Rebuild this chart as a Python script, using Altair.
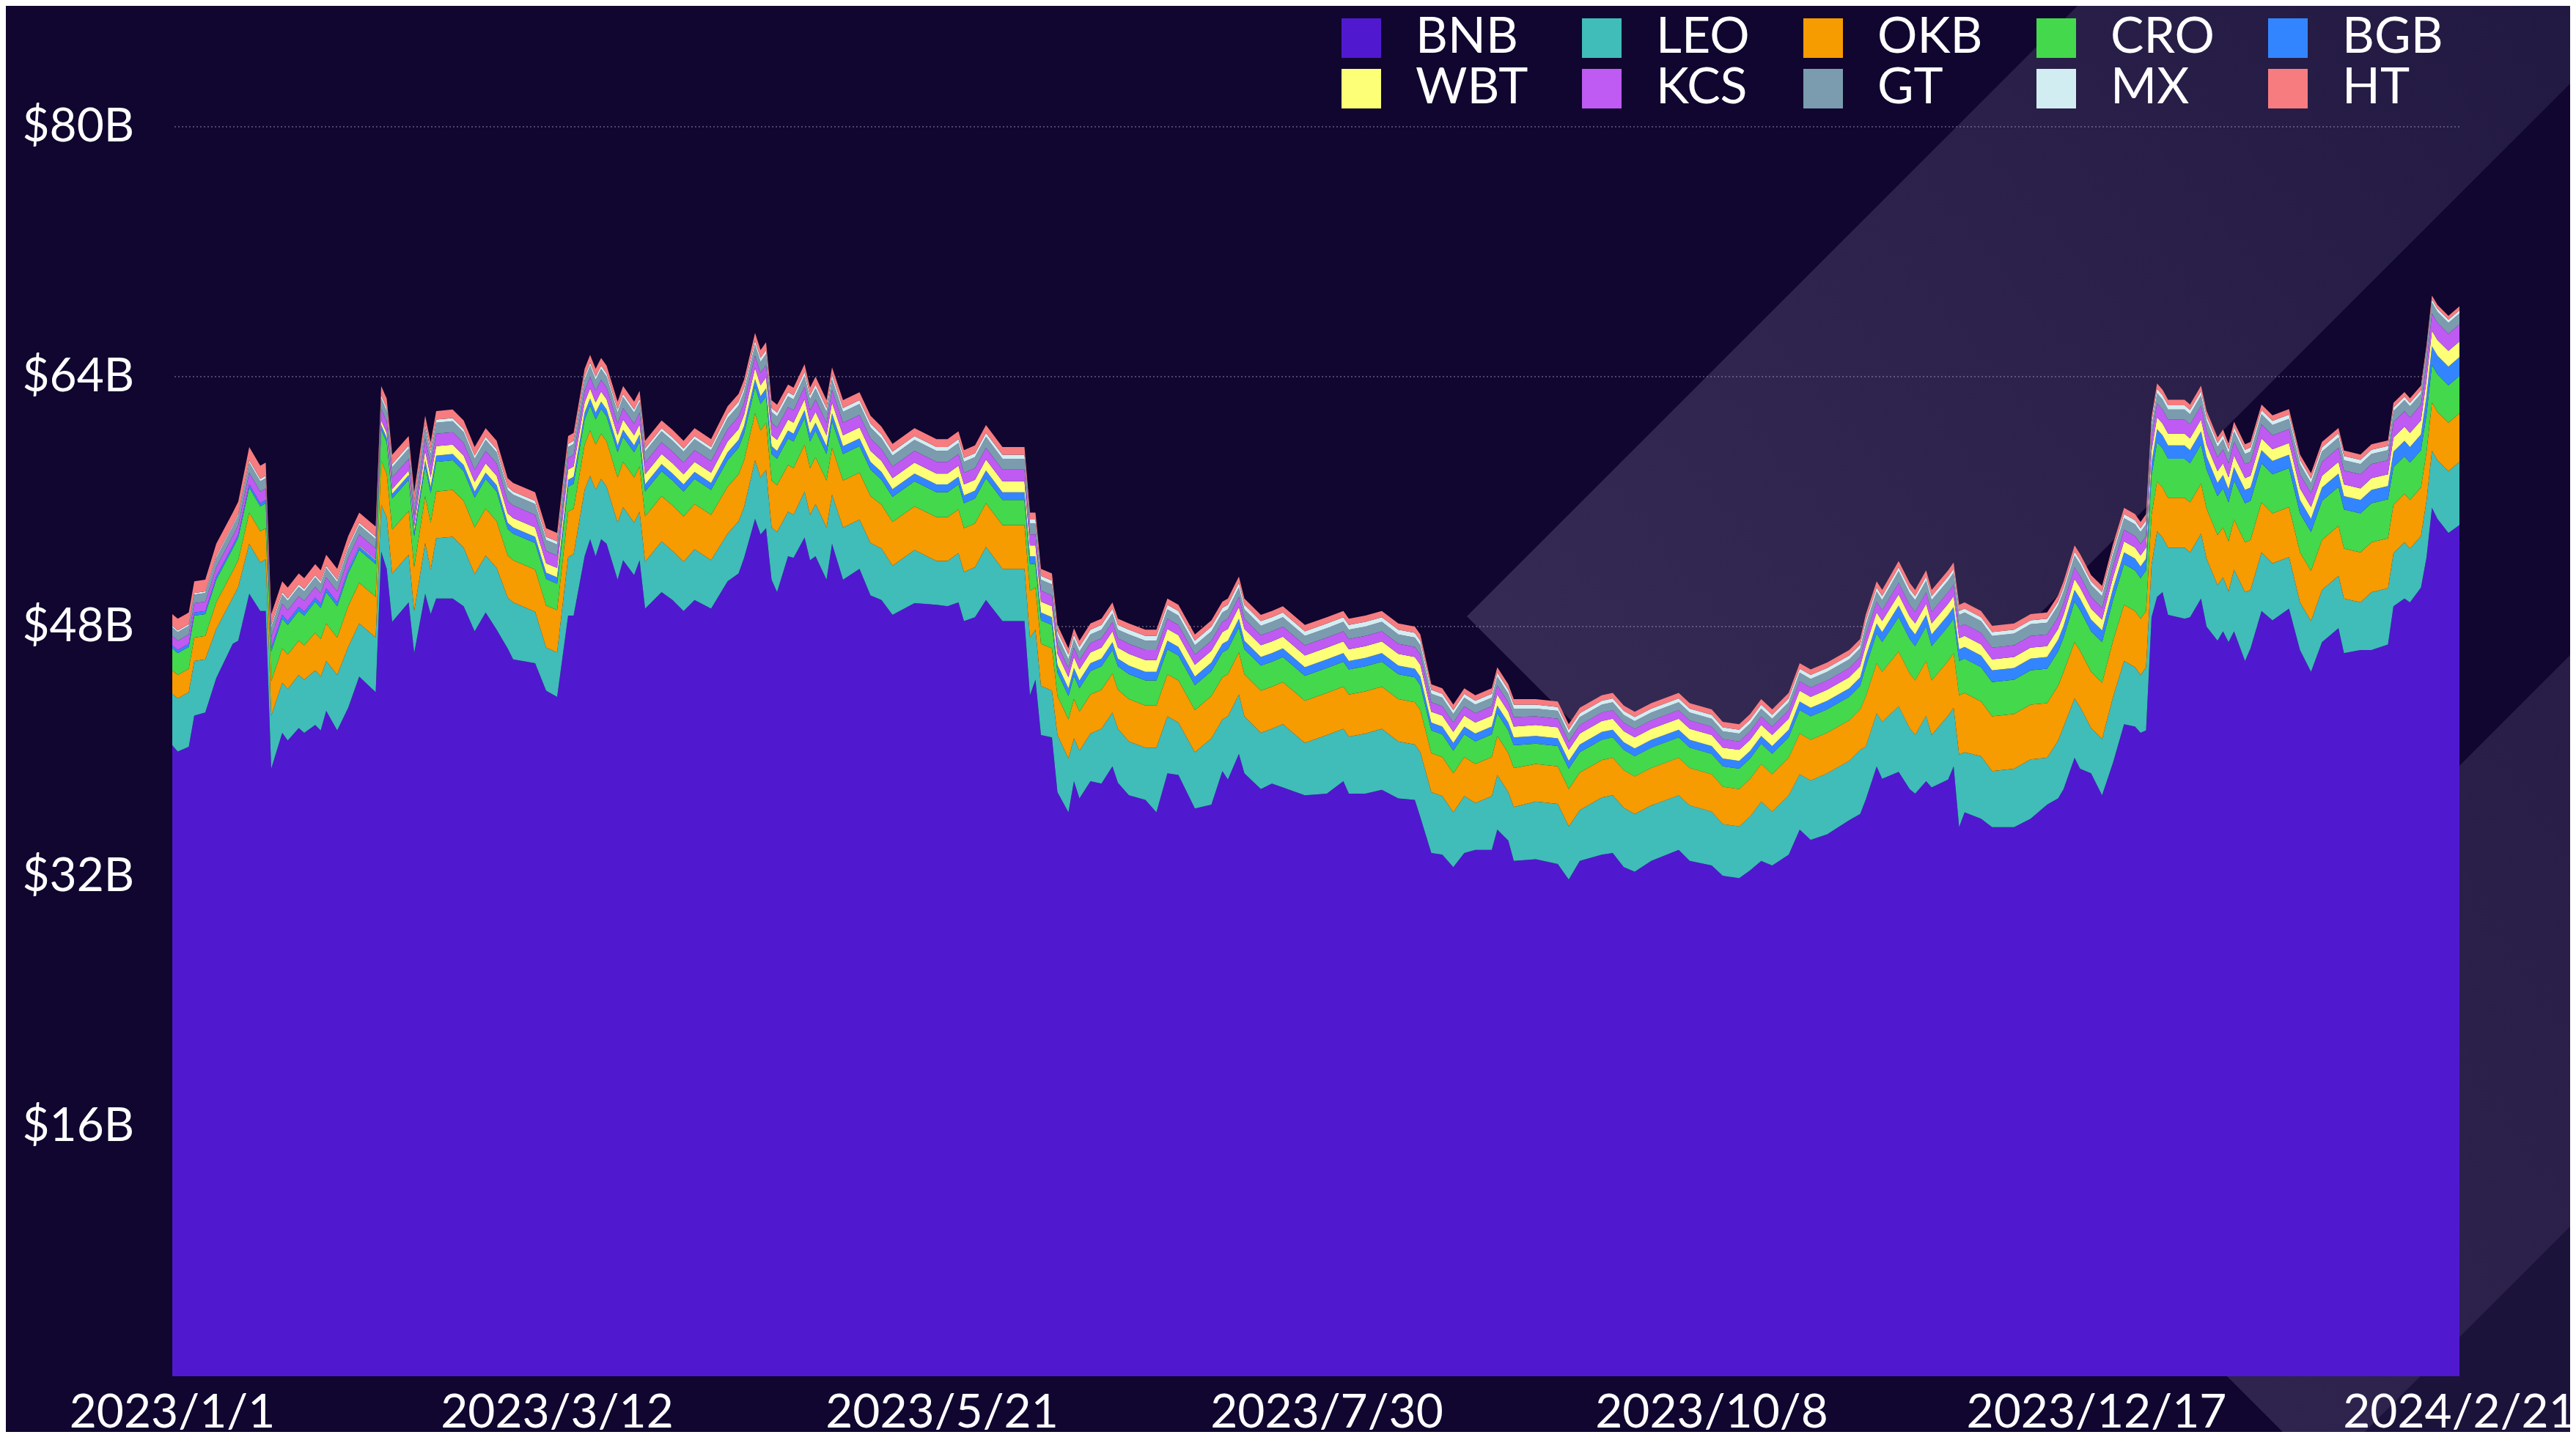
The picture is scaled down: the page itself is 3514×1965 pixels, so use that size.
import altair as alt
import pandas as pd

# ---------------- data ----------------
coins = ["BNB", "LEO", "OKB", "CRO", "BGB", "WBT", "KCS", "GT", "MX", "HT"]
coin_colors = ["#5019CF", "#40BCB9", "#F69B00", "#44D84C", "#3385FF",
               "#FDFF77", "#BF5AF2", "#7B9CAE", "#D2EDF2", "#F67C80"]

start_date = "2023-01-01"
day_offsets = [
    0, 1, 3, 4, 6, 8, 11, 12, 14, 16,
    17, 18, 20, 21, 23, 24, 26, 27, 28, 30,
    32, 34, 37, 38, 39, 40, 43, 44, 46, 47,
    48, 51, 53, 55, 57, 59, 61, 62, 66, 68,
    70, 72, 73, 75, 76, 77, 78, 79, 81, 82,
    84, 85, 86, 89, 91, 93, 95, 98, 101, 103,
    104, 106, 107, 108, 109, 110, 112, 113, 115, 116,
    117, 119, 120, 122, 125, 127, 129, 131, 135, 139,
    141, 143, 144, 146, 148, 151, 155, 156, 157, 158,
    160, 161, 163, 164, 165, 167, 169, 171, 172, 174,
    177, 179, 181, 183, 186, 189, 191, 192, 194, 195,
    198, 200, 202, 206, 210, 213, 214, 217, 220, 223,
    226, 227, 229, 231, 233, 235, 237, 240, 241, 243,
    244, 248, 252, 254, 256, 260, 262, 264, 266, 269,
    274, 276, 280, 282, 285, 287, 289, 291, 294, 296,
    298, 301, 305, 307, 308, 310, 311, 314, 316, 317,
    319, 320, 323, 324, 325, 326, 329, 331, 335, 338,
    341, 343, 344, 346, 347, 349, 351, 353, 355, 357,
    358, 359, 360, 361, 362, 363, 366, 367, 369, 370,
    372, 373, 374, 375, 377, 378, 380, 382, 385, 387,
    389, 391, 394, 395, 398, 400, 403, 404, 406, 407,
    409, 410, 411, 412, 414, 416]

bnb = [
    40.4, 40.0, 40.3, 42.3, 42.5, 44.7, 46.9, 47.1, 50.1, 49.0,
    49.0, 38.9, 41.2, 40.7, 41.5, 41.2, 41.7, 41.35, 42.6, 41.35,
    42.8, 44.8, 43.8, 52.8, 51.7, 48.3, 49.55, 46.3, 50.1, 48.8,
    49.8, 49.8, 49.3, 47.7, 48.9, 47.8, 46.6, 45.9, 45.65, 43.9,
    43.5, 48.7, 48.7, 52.5, 53.6, 52.5, 53.6, 53.3, 51.0, 52.25,
    51.3, 52.25, 49.15, 50.2, 49.7, 49.0, 49.7, 49.15, 50.9, 51.4,
    52.4, 54.9, 53.9, 54.3, 51.0, 50.2, 52.5, 52.4, 53.7, 52.25,
    52.5, 51.0, 53.3, 51.0, 51.7, 50.0, 49.7, 48.75, 49.5, 49.4,
    49.3, 49.55, 48.35, 48.6, 49.7, 48.35, 48.35, 43.6, 44.6, 41.05,
    40.9, 37.4, 36.1, 38.1, 37.0, 38.1, 37.95, 39.05, 38.0, 37.2,
    36.9, 36.1, 38.6, 38.5, 36.35, 36.6, 38.75, 38.2, 39.85, 38.6,
    37.6, 37.95, 37.7, 37.2, 37.3, 38.1, 37.3, 37.3, 37.55, 37.0,
    36.9, 35.8, 33.5, 33.4, 32.6, 33.5, 33.7, 33.7, 35.0, 34.3,
    33.0, 33.1, 32.8, 31.8, 33.0, 33.4, 33.5, 32.6, 32.3, 33.0,
    33.7, 33.0, 32.7, 32.05, 31.9, 32.4, 33.0, 32.7, 33.4, 35.0,
    34.35, 34.7, 35.6, 36.0, 36.9, 39.05, 38.25, 38.7, 37.6, 37.3,
    38.1, 37.7, 38.2, 39.05, 35.15, 36.1, 35.7, 35.15, 35.15, 35.7,
    36.6, 37.0, 37.6, 39.6, 38.9, 38.6, 37.2, 39.3, 41.75, 41.6,
    41.2, 41.35, 48.6, 49.9, 50.2, 48.75, 48.5, 48.6, 49.8, 48.0,
    47.1, 47.7, 47.0, 47.7, 45.8, 46.6, 49.0, 48.4, 49.15, 46.5,
    45.1, 47.0, 47.9, 46.3, 46.5, 46.5, 46.85, 49.3, 49.8, 49.55,
    50.5, 52.4, 55.6, 54.9, 54.0, 54.5]

leo = [
    3.3, 3.4, 3.5, 3.5, 3.4, 3.15, 2.95, 3.45, 3.2, 3.1,
    3.3, 3.4, 3.2, 3.3, 3.4, 3.4, 3.5, 3.45, 3.2, 3.55,
    3.9, 3.4, 3.5, 3.0, 3.3, 3.1, 3.05, 2.7, 3.25, 2.85,
    3.85, 3.95, 3.75, 3.65, 3.65, 3.95, 3.25, 3.65, 3.3, 2.75,
    2.85, 3.75, 3.95, 4.25, 4.05, 4.25, 3.85, 3.65, 3.65, 3.4,
    3.35, 3.1, 3.0, 3.25, 3.15, 3.15, 3.25, 3.1, 3.05, 3.35,
    3.25, 3.75, 3.65, 3.75, 3.35, 3.85, 2.85, 2.75, 2.95, 2.9,
    3.35, 3.35, 3.15, 3.35, 3.15, 3.35, 3.3, 3.15, 3.4, 2.8,
    2.9, 3.15, 3.15, 3.2, 3.4, 3.35, 3.35, 3.7, 3.2, 3.15,
    3.0, 3.65, 3.45, 2.75, 3.05, 3.05, 3.5, 3.45, 3.45, 3.45,
    3.35, 4.15, 3.65, 3.35, 3.6, 4.25, 3.3, 4.05, 3.8, 3.65,
    3.6, 3.5, 4.05, 3.35, 3.75, 3.35, 3.65, 3.85, 3.9, 3.65,
    3.55, 4.15, 3.9, 3.75, 3.5, 3.65, 3.0, 3.45, 3.5, 3.1,
    3.45, 3.7, 3.85, 3.4, 3.25, 3.65, 3.7, 3.8, 3.7, 3.55,
    3.5, 3.55, 3.45, 3.3, 3.3, 3.45, 3.8, 3.45, 3.8, 3.55,
    3.8, 3.9, 3.8, 4.1, 3.4, 3.4, 3.65, 4.2, 3.9, 3.75,
    4.2, 3.35, 4.1, 3.75, 4.65, 3.85, 4.0, 3.6, 3.75, 3.8,
    3.0, 3.7, 4.0, 3.8, 3.95, 2.9, 3.6, 4.2, 4.05, 3.8,
    3.7, 4.05, 3.35, 4.2, 3.5, 4.3, 4.55, 4.15, 4.15, 4.35,
    3.55, 3.45, 3.25, 3.95, 4.4, 3.75, 3.75, 3.65, 3.3, 3.05,
    3.25, 3.35, 3.35, 3.5, 3.05, 3.7, 3.6, 3.4, 3.6, 3.45,
    3.3, 3.65, 3.65, 3.75, 3.95, 4.05]

okb = [
    1.5, 1.5, 1.5, 1.5, 1.5, 1.7, 1.7, 1.7, 2.0, 2.0,
    2.0, 2.2, 2.2, 2.2, 2.2, 2.2, 2.4, 2.4, 2.4, 2.4,
    2.6, 2.6, 2.6, 2.8, 2.8, 2.8, 2.8, 2.8, 3.0, 3.0,
    3.0, 3.0, 3.0, 3.0, 3.0, 3.0, 2.7, 2.7, 2.7, 2.7,
    2.7, 2.9, 2.9, 2.9, 2.9, 2.9, 2.9, 2.9, 2.9, 2.9,
    2.9, 2.9, 2.9, 2.9, 2.9, 2.9, 2.9, 2.9, 3.0, 3.0,
    3.0, 3.0, 3.0, 3.0, 3.0, 3.0, 3.0, 3.0, 3.0, 3.0,
    3.0, 3.0, 3.0, 3.0, 3.0, 3.0, 2.8, 2.8, 2.8, 2.8,
    2.8, 2.8, 2.8, 2.8, 2.8, 2.8, 2.8, 3.0, 2.7, 2.7,
    2.7, 2.5, 2.5, 2.5, 2.5, 2.5, 2.5, 2.5, 2.5, 2.7,
    2.7, 2.7, 2.7, 2.7, 2.7, 2.7, 2.7, 2.7, 2.7, 2.7,
    2.7, 2.7, 2.7, 2.7, 2.7, 2.7, 2.7, 2.7, 2.7, 2.7,
    2.7, 2.7, 2.5, 2.5, 2.5, 2.5, 2.5, 2.5, 2.5, 2.5,
    2.5, 2.4, 2.4, 2.4, 2.4, 2.4, 2.4, 2.4, 2.4, 2.4,
    2.4, 2.4, 2.4, 2.4, 2.4, 2.4, 2.4, 2.4, 2.4, 2.6,
    2.6, 2.6, 2.6, 2.6, 3.2, 3.2, 3.2, 3.5, 3.5, 3.5,
    3.5, 3.5, 3.5, 3.5, 3.8, 3.8, 3.5, 3.5, 3.5, 3.5,
    3.5, 3.5, 3.5, 3.6, 3.6, 3.6, 3.6, 3.6, 3.6, 3.6,
    3.6, 3.6, 3.2, 3.2, 3.2, 3.2, 3.2, 3.2, 3.2, 3.2,
    3.2, 3.2, 3.2, 3.2, 3.2, 3.2, 3.2, 3.2, 3.2, 3.2,
    3.2, 3.2, 3.2, 3.2, 3.2, 3.2, 3.2, 3.1, 3.1, 3.1,
    3.1, 3.1, 3.1, 3.1, 3.1, 3.1]

cro = [
    1.4, 1.4, 1.4, 1.4, 1.4, 1.45, 1.45, 1.45, 1.6, 1.6,
    1.6, 1.9, 1.9, 1.9, 1.9, 1.9, 2.0, 2.0, 2.0, 2.0,
    2.1, 2.1, 2.1, 2.0, 2.0, 2.0, 2.0, 2.0, 1.9, 1.9,
    1.9, 1.9, 1.9, 1.9, 1.9, 1.9, 1.7, 1.7, 1.7, 1.7,
    1.7, 1.6, 1.6, 1.6, 1.6, 1.6, 1.6, 1.6, 1.6, 1.6,
    1.6, 1.6, 1.6, 1.6, 1.6, 1.6, 1.6, 1.6, 1.7, 1.7,
    1.7, 1.7, 1.7, 1.7, 1.7, 1.7, 1.7, 1.7, 1.7, 1.7,
    1.7, 1.7, 1.7, 1.7, 1.7, 1.7, 1.6, 1.6, 1.6, 1.6,
    1.6, 1.6, 1.6, 1.6, 1.6, 1.6, 1.6, 1.7, 1.5, 1.5,
    1.5, 1.5, 1.5, 1.5, 1.5, 1.5, 1.5, 1.5, 1.5, 1.6,
    1.6, 1.6, 1.6, 1.6, 1.6, 1.6, 1.6, 1.6, 1.6, 1.6,
    1.6, 1.6, 1.6, 1.6, 1.6, 1.6, 1.6, 1.6, 1.6, 1.6,
    1.6, 1.6, 1.45, 1.45, 1.45, 1.45, 1.45, 1.45, 1.45, 1.45,
    1.45, 1.3, 1.3, 1.3, 1.3, 1.3, 1.3, 1.3, 1.3, 1.3,
    1.3, 1.3, 1.3, 1.3, 1.3, 1.3, 1.3, 1.3, 1.3, 1.5,
    1.5, 1.5, 1.5, 1.5, 1.9, 1.9, 1.9, 2.2, 2.2, 2.2,
    2.2, 2.2, 2.2, 2.2, 2.2, 2.2, 2.2, 2.2, 2.2, 2.2,
    2.2, 2.2, 2.2, 2.6, 2.6, 2.6, 2.6, 2.6, 2.6, 2.6,
    2.6, 2.6, 2.5, 2.5, 2.5, 2.5, 2.5, 2.5, 2.5, 2.5,
    2.5, 2.5, 2.5, 2.5, 2.5, 2.5, 2.5, 2.5, 2.5, 2.5,
    2.5, 2.5, 2.5, 2.5, 2.5, 2.5, 2.5, 2.4, 2.4, 2.4,
    2.4, 2.4, 2.4, 2.4, 2.4, 2.4]

bgb = [
    0.2, 0.2, 0.2, 0.2, 0.2, 0.2, 0.2, 0.2, 0.2, 0.2,
    0.2, 0.25, 0.25, 0.25, 0.25, 0.25, 0.25, 0.25, 0.25, 0.25,
    0.25, 0.25, 0.25, 0.3, 0.3, 0.3, 0.3, 0.3, 0.4, 0.4,
    0.4, 0.4, 0.4, 0.4, 0.4, 0.4, 0.4, 0.4, 0.4, 0.4,
    0.4, 0.45, 0.45, 0.45, 0.45, 0.45, 0.45, 0.45, 0.45, 0.45,
    0.45, 0.45, 0.45, 0.45, 0.45, 0.45, 0.45, 0.45, 0.5, 0.5,
    0.5, 0.5, 0.5, 0.5, 0.5, 0.5, 0.5, 0.5, 0.5, 0.5,
    0.5, 0.5, 0.5, 0.5, 0.5, 0.5, 0.5, 0.5, 0.5, 0.5,
    0.5, 0.5, 0.5, 0.5, 0.5, 0.5, 0.5, 0.5, 0.5, 0.5,
    0.5, 0.5, 0.5, 0.5, 0.5, 0.5, 0.5, 0.5, 0.5, 0.55,
    0.55, 0.55, 0.55, 0.55, 0.55, 0.55, 0.55, 0.55, 0.55, 0.55,
    0.55, 0.55, 0.55, 0.55, 0.55, 0.55, 0.55, 0.55, 0.55, 0.55,
    0.55, 0.55, 0.5, 0.5, 0.5, 0.5, 0.5, 0.5, 0.5, 0.5,
    0.5, 0.5, 0.5, 0.5, 0.5, 0.5, 0.5, 0.5, 0.5, 0.5,
    0.5, 0.5, 0.5, 0.5, 0.5, 0.5, 0.5, 0.5, 0.5, 0.55,
    0.55, 0.55, 0.55, 0.55, 0.65, 0.65, 0.65, 0.75, 0.75, 0.75,
    0.75, 0.75, 0.75, 0.75, 0.75, 0.75, 0.75, 0.75, 0.75, 0.75,
    0.75, 0.75, 0.75, 0.75, 0.75, 0.75, 0.75, 0.75, 0.75, 0.75,
    0.75, 0.75, 0.85, 0.85, 0.85, 0.85, 0.85, 0.85, 0.85, 0.85,
    0.85, 0.85, 0.85, 0.85, 0.85, 0.85, 0.85, 0.85, 0.85, 0.85,
    0.85, 0.85, 0.85, 0.85, 0.85, 0.85, 0.85, 1.0, 1.0, 1.0,
    1.0, 1.2, 1.2, 1.2, 1.2, 1.2]

wbt = [
    0.0, 0.0, 0.0, 0.0, 0.0, 0.0, 0.0, 0.0, 0.0, 0.0,
    0.0, 0.0, 0.0, 0.0, 0.0, 0.0, 0.0, 0.0, 0.0, 0.0,
    0.05, 0.05, 0.05, 0.3, 0.3, 0.3, 0.3, 0.3, 0.6, 0.6,
    0.6, 0.6, 0.6, 0.6, 0.6, 0.6, 0.6, 0.6, 0.6, 0.6,
    0.6, 0.65, 0.65, 0.65, 0.65, 0.65, 0.65, 0.65, 0.65, 0.65,
    0.65, 0.65, 0.65, 0.65, 0.65, 0.65, 0.65, 0.65, 0.7, 0.7,
    0.7, 0.7, 0.7, 0.7, 0.7, 0.7, 0.7, 0.7, 0.7, 0.7,
    0.7, 0.7, 0.7, 0.7, 0.7, 0.7, 0.7, 0.7, 0.7, 0.7,
    0.7, 0.7, 0.7, 0.7, 0.7, 0.7, 0.7, 0.7, 0.7, 0.7,
    0.7, 0.7, 0.7, 0.7, 0.7, 0.7, 0.7, 0.7, 0.7, 0.75,
    0.75, 0.75, 0.75, 0.75, 0.75, 0.75, 0.75, 0.75, 0.75, 0.75,
    0.75, 0.75, 0.75, 0.75, 0.75, 0.75, 0.75, 0.75, 0.75, 0.75,
    0.75, 0.75, 0.7, 0.7, 0.7, 0.7, 0.7, 0.7, 0.7, 0.7,
    0.7, 0.7, 0.7, 0.7, 0.7, 0.7, 0.7, 0.7, 0.7, 0.7,
    0.7, 0.7, 0.7, 0.7, 0.7, 0.7, 0.7, 0.7, 0.7, 0.7,
    0.7, 0.7, 0.7, 0.7, 0.7, 0.7, 0.7, 0.7, 0.7, 0.7,
    0.7, 0.7, 0.7, 0.7, 0.7, 0.7, 0.7, 0.7, 0.7, 0.7,
    0.7, 0.7, 0.7, 0.7, 0.7, 0.7, 0.7, 0.7, 0.7, 0.7,
    0.7, 0.7, 0.75, 0.75, 0.75, 0.75, 0.75, 0.75, 0.75, 0.75,
    0.75, 0.75, 0.75, 0.75, 0.75, 0.75, 0.75, 0.75, 0.75, 0.75,
    0.75, 0.75, 0.75, 0.75, 0.75, 0.75, 0.75, 0.9, 0.9, 0.9,
    0.9, 1.0, 1.0, 1.0, 1.0, 1.0]

kcs = [
    0.6, 0.6, 0.6, 0.6, 0.6, 0.6, 0.6, 0.6, 0.75, 0.75,
    0.75, 0.7, 0.7, 0.7, 0.7, 0.7, 0.7, 0.7, 0.7, 0.7,
    0.7, 0.7, 0.7, 0.75, 0.75, 0.75, 0.75, 0.75, 0.8, 0.8,
    0.8, 0.8, 0.8, 0.8, 0.8, 0.8, 0.8, 0.8, 0.8, 0.8,
    0.8, 0.75, 0.75, 0.75, 0.75, 0.75, 0.75, 0.75, 0.75, 0.75,
    0.75, 0.75, 0.75, 0.75, 0.75, 0.75, 0.75, 0.75, 0.8, 0.8,
    0.8, 0.8, 0.8, 0.8, 0.8, 0.8, 0.8, 0.8, 0.8, 0.8,
    0.8, 0.8, 0.8, 0.8, 0.8, 0.8, 0.75, 0.75, 0.75, 0.75,
    0.75, 0.75, 0.75, 0.75, 0.75, 0.75, 0.75, 0.7, 0.7, 0.7,
    0.7, 0.6, 0.6, 0.6, 0.6, 0.6, 0.6, 0.6, 0.6, 0.65,
    0.65, 0.65, 0.65, 0.65, 0.65, 0.65, 0.65, 0.65, 0.65, 0.65,
    0.65, 0.65, 0.65, 0.65, 0.65, 0.65, 0.65, 0.65, 0.65, 0.65,
    0.65, 0.65, 0.6, 0.6, 0.6, 0.6, 0.6, 0.6, 0.6, 0.6,
    0.6, 0.55, 0.55, 0.55, 0.55, 0.55, 0.55, 0.55, 0.55, 0.55,
    0.55, 0.55, 0.55, 0.55, 0.55, 0.55, 0.55, 0.55, 0.55, 0.6,
    0.6, 0.6, 0.6, 0.6, 0.7, 0.7, 0.7, 0.75, 0.75, 0.75,
    0.75, 0.75, 0.75, 0.75, 0.75, 0.75, 0.75, 0.75, 0.75, 0.75,
    0.75, 0.75, 0.75, 0.75, 0.75, 0.75, 0.75, 0.75, 0.75, 0.75,
    0.75, 0.75, 0.9, 0.9, 0.9, 0.9, 0.9, 0.9, 0.9, 0.9,
    0.9, 0.9, 0.9, 0.9, 0.9, 0.9, 0.9, 0.9, 0.9, 0.9,
    0.9, 0.9, 0.9, 0.9, 0.9, 0.9, 0.9, 1.0, 1.0, 1.0,
    1.0, 1.1, 1.1, 1.1, 1.1, 1.1]

gt = [
    0.55, 0.55, 0.55, 0.55, 0.55, 0.6, 0.6, 0.6, 0.65, 0.65,
    0.65, 0.6, 0.6, 0.6, 0.6, 0.6, 0.6, 0.6, 0.6, 0.6,
    0.6, 0.6, 0.6, 0.65, 0.65, 0.65, 0.65, 0.65, 0.7, 0.7,
    0.7, 0.7, 0.7, 0.7, 0.7, 0.7, 0.7, 0.7, 0.7, 0.7,
    0.7, 0.7, 0.7, 0.7, 0.7, 0.7, 0.7, 0.7, 0.7, 0.7,
    0.7, 0.7, 0.7, 0.7, 0.7, 0.7, 0.7, 0.7, 0.7, 0.7,
    0.7, 0.7, 0.7, 0.7, 0.7, 0.7, 0.7, 0.7, 0.7, 0.7,
    0.7, 0.7, 0.7, 0.7, 0.7, 0.7, 0.7, 0.7, 0.7, 0.7,
    0.7, 0.7, 0.7, 0.7, 0.7, 0.7, 0.7, 0.7, 0.7, 0.7,
    0.7, 0.55, 0.55, 0.55, 0.55, 0.55, 0.55, 0.55, 0.55, 0.6,
    0.6, 0.6, 0.6, 0.6, 0.6, 0.6, 0.6, 0.6, 0.6, 0.6,
    0.6, 0.6, 0.6, 0.6, 0.6, 0.6, 0.6, 0.6, 0.6, 0.6,
    0.6, 0.6, 0.55, 0.55, 0.55, 0.55, 0.55, 0.55, 0.55, 0.55,
    0.55, 0.5, 0.5, 0.5, 0.5, 0.5, 0.5, 0.5, 0.5, 0.5,
    0.5, 0.5, 0.5, 0.5, 0.5, 0.5, 0.5, 0.5, 0.5, 0.55,
    0.55, 0.55, 0.55, 0.55, 0.65, 0.65, 0.65, 0.75, 0.75, 0.75,
    0.75, 0.75, 0.75, 0.75, 0.75, 0.75, 0.75, 0.75, 0.75, 0.75,
    0.75, 0.75, 0.75, 0.75, 0.75, 0.75, 0.75, 0.75, 0.75, 0.75,
    0.75, 0.75, 0.65, 0.65, 0.65, 0.65, 0.65, 0.65, 0.65, 0.65,
    0.65, 0.65, 0.65, 0.65, 0.65, 0.65, 0.65, 0.65, 0.65, 0.65,
    0.65, 0.65, 0.65, 0.65, 0.65, 0.65, 0.65, 0.7, 0.7, 0.7,
    0.7, 0.7, 0.7, 0.7, 0.7, 0.7]

mx = [
    0.1, 0.1, 0.1, 0.1, 0.1, 0.1, 0.1, 0.1, 0.15, 0.15,
    0.15, 0.15, 0.15, 0.15, 0.15, 0.15, 0.15, 0.15, 0.15, 0.15,
    0.15, 0.15, 0.15, 0.2, 0.2, 0.2, 0.2, 0.2, 0.2, 0.2,
    0.2, 0.2, 0.2, 0.2, 0.2, 0.2, 0.2, 0.2, 0.2, 0.2,
    0.2, 0.2, 0.2, 0.2, 0.2, 0.2, 0.2, 0.2, 0.2, 0.2,
    0.2, 0.2, 0.2, 0.2, 0.2, 0.2, 0.2, 0.2, 0.25, 0.25,
    0.25, 0.25, 0.25, 0.25, 0.25, 0.25, 0.25, 0.25, 0.25, 0.25,
    0.25, 0.25, 0.25, 0.25, 0.25, 0.25, 0.25, 0.25, 0.25, 0.25,
    0.25, 0.25, 0.25, 0.25, 0.25, 0.25, 0.25, 0.25, 0.25, 0.25,
    0.25, 0.3, 0.3, 0.3, 0.3, 0.3, 0.3, 0.3, 0.3, 0.3,
    0.3, 0.3, 0.3, 0.3, 0.3, 0.3, 0.3, 0.3, 0.3, 0.3,
    0.3, 0.3, 0.3, 0.3, 0.3, 0.3, 0.3, 0.3, 0.3, 0.3,
    0.3, 0.3, 0.25, 0.25, 0.25, 0.25, 0.25, 0.25, 0.25, 0.25,
    0.25, 0.25, 0.25, 0.25, 0.25, 0.25, 0.25, 0.25, 0.25, 0.25,
    0.25, 0.25, 0.25, 0.25, 0.25, 0.25, 0.25, 0.25, 0.25, 0.25,
    0.25, 0.25, 0.25, 0.25, 0.25, 0.25, 0.25, 0.25, 0.25, 0.25,
    0.25, 0.25, 0.25, 0.25, 0.25, 0.25, 0.25, 0.25, 0.25, 0.25,
    0.25, 0.25, 0.25, 0.25, 0.25, 0.25, 0.25, 0.25, 0.25, 0.25,
    0.25, 0.25, 0.27, 0.27, 0.27, 0.27, 0.27, 0.27, 0.27, 0.27,
    0.27, 0.27, 0.27, 0.27, 0.27, 0.27, 0.27, 0.27, 0.27, 0.27,
    0.27, 0.27, 0.27, 0.27, 0.27, 0.27, 0.27, 0.22, 0.22, 0.22,
    0.22, 0.2, 0.2, 0.2, 0.2, 0.2]

ht = [
    0.75, 0.75, 0.75, 0.75, 0.75, 0.8, 0.8, 0.8, 0.85, 0.85,
    0.85, 0.7, 0.7, 0.7, 0.7, 0.7, 0.7, 0.7, 0.7, 0.7,
    0.65, 0.65, 0.65, 0.6, 0.6, 0.6, 0.6, 0.6, 0.55, 0.55,
    0.55, 0.55, 0.55, 0.55, 0.55, 0.55, 0.55, 0.55, 0.55, 0.55,
    0.55, 0.5, 0.5, 0.5, 0.5, 0.5, 0.5, 0.5, 0.5, 0.5,
    0.5, 0.5, 0.5, 0.5, 0.5, 0.5, 0.5, 0.5, 0.5, 0.5,
    0.5, 0.5, 0.5, 0.5, 0.5, 0.5, 0.5, 0.5, 0.5, 0.5,
    0.5, 0.5, 0.5, 0.5, 0.5, 0.5, 0.5, 0.5, 0.5, 0.5,
    0.5, 0.5, 0.5, 0.5, 0.5, 0.5, 0.5, 0.45, 0.45, 0.45,
    0.45, 0.4, 0.4, 0.4, 0.4, 0.4, 0.4, 0.4, 0.4, 0.4,
    0.4, 0.4, 0.4, 0.4, 0.4, 0.4, 0.4, 0.4, 0.4, 0.4,
    0.4, 0.4, 0.4, 0.4, 0.4, 0.4, 0.4, 0.4, 0.4, 0.4,
    0.4, 0.4, 0.35, 0.35, 0.35, 0.35, 0.35, 0.35, 0.35, 0.35,
    0.35, 0.35, 0.35, 0.35, 0.35, 0.35, 0.35, 0.35, 0.35, 0.35,
    0.35, 0.35, 0.35, 0.35, 0.35, 0.35, 0.35, 0.35, 0.35, 0.35,
    0.35, 0.35, 0.35, 0.35, 0.4, 0.4, 0.4, 0.4, 0.4, 0.4,
    0.4, 0.4, 0.4, 0.4, 0.4, 0.4, 0.4, 0.4, 0.4, 0.4,
    0.4, 0.4, 0.4, 0.4, 0.4, 0.4, 0.4, 0.4, 0.4, 0.4,
    0.4, 0.4, 0.35, 0.35, 0.35, 0.35, 0.35, 0.35, 0.35, 0.35,
    0.35, 0.35, 0.35, 0.35, 0.35, 0.35, 0.35, 0.35, 0.35, 0.35,
    0.35, 0.35, 0.35, 0.35, 0.35, 0.35, 0.35, 0.3, 0.3, 0.3,
    0.3, 0.25, 0.25, 0.25, 0.25, 0.25]

y_tick_values = [16, 32, 48, 64, 80]
x_tick_dates = ["2023-01-01", "2023-03-12", "2023-05-21", "2023-07-30",
                "2023-10-08", "2023-12-17", "2024-02-21"]

# background decoration (page-pixel geometry of the three translucent bands)
deco_a_x = [2001, 2390, 2842, 3514]
deco_a_top = [841, 452, 0, 0]
deco_a_bottom = [841, 1230, 778, 106]
deco_b_x = [2780, 3125, 3215, 3514]
deco_b_top = [1620, 1275, 1185, 886]
deco_b_bottom = [1620, 1965, 1965, 1666]
deco_c_x = [3215, 3514]
deco_c_top = [1965, 1666]
deco_c_bottom = [1965, 1965]

# ---------------- build tables ----------------
series = dict(zip(coins, [bnb, leo, okb, cro, bgb, wbt, kcs, gt, mx, ht]))
for name, vals in series.items():
    assert len(vals) == len(day_offsets), (name, len(vals), len(day_offsets))

base = pd.Timestamp(start_date)
dates = [(base + pd.Timedelta(days=d)).strftime("%Y-%m-%dT00:00:00") for d in day_offsets]
records = []
for k, c in enumerate(coins):
    for i, dt in enumerate(dates):
        records.append({"date": dt, "coin": c, "rank": k, "value": series[c][i]})
df = pd.DataFrame(records)


def tick_label(s):
    y, m, d = (int(p) for p in s.split("-"))
    return f"{y}/{m}/{d}"


xlab_df = pd.DataFrame({
    "date": [s + "T00:00:00" for s in x_tick_dates],
    "label": [tick_label(s) for s in x_tick_dates],
})


def to_dt(s, hours=0):
    y, m, d = (int(p) for p in s.split("-"))
    return alt.DateTime(year=y, month=m, date=d, hours=hours)


FONT = "Lato"
BG = "#10062F"
PLOT_W, PLOT_H = 3120, 1705

# ---------------- decoration layer ----------------
deco_xs = alt.Scale(domain=[235, 3355], nice=False, zero=False)
deco_ys = alt.Scale(domain=[173, 1878], nice=False, zero=False, reverse=True)


def deco_layer(xs, tops, bottoms, fill):
    frame = pd.DataFrame({"px": xs, "top": tops, "bottom": bottoms})
    return alt.Chart(frame).mark_area(
        fill=fill, orient="vertical", interpolate="linear", strokeWidth=0
    ).encode(
        x=alt.X("px:Q", scale=deco_xs, axis=None),
        y=alt.Y("top:Q", scale=deco_ys, axis=None),
        y2="bottom:Q",
    )


grad_a = {"gradient": "linear", "x1": 0, "y1": 0.7, "x2": 1, "y2": 0,
          "stops": [{"offset": 0, "color": "#352A53"}, {"offset": 1, "color": "#221942"}]}
grad_b = {"gradient": "linear", "x1": 0, "y1": 1, "x2": 1, "y2": 0,
          "stops": [{"offset": 0, "color": "#30264F"}, {"offset": 1, "color": "#271D46"}]}

deco = alt.layer(
    deco_layer(deco_a_x, deco_a_top, deco_a_bottom, grad_a),
    deco_layer(deco_b_x, deco_b_top, deco_b_bottom, grad_b),
    deco_layer(deco_c_x, deco_c_top, deco_c_bottom, "#1C133B"),
)

# ---------------- grid layer ----------------
grid = alt.Chart(pd.DataFrame({"v": y_tick_values})).mark_rule(
    stroke="#A8A3C0", strokeWidth=1.5, strokeDash=[2, 3], opacity=0.55
).encode(
    y=alt.Y("v:Q", scale=alt.Scale(domain=[0, 80], nice=False), axis=None)
)

# ---------------- stacked areas + date labels ----------------
x_scale = alt.Scale(domain=[to_dt(x_tick_dates[0]), to_dt(x_tick_dates[-1])], nice=False)

areas = alt.Chart(df).mark_area(interpolate="linear").encode(
    x=alt.X("date:T", scale=x_scale, axis=None),
    y=alt.Y(
        "value:Q",
        stack="zero",
        scale=alt.Scale(domain=[0, 80], nice=False),
        axis=alt.Axis(
            values=y_tick_values,
            labelExpr="'$' + datum.value + 'B'",
            orient="left",
            labelAlign="left", labelBaseline="middle",
            labelFont=FONT, labelFontSize=64, labelColor="#FFFFFF", labelLimit=1000,
            labelPadding=205, labelFlush=False, labelOverlap=False,
            ticks=False, tickSize=0, domain=False, grid=False, title=None,
        ),
    ),
    color=alt.Color(
        "coin:N",
        scale=alt.Scale(domain=coins, range=coin_colors),
        legend=alt.Legend(
            orient="none", legendX=1588, legendY=-155,
            direction="horizontal", columns=5,
            symbolType="square", symbolSize=2916, symbolStrokeWidth=0, symbolOpacity=1,
            labelFont=FONT, labelFontSize=68, labelColor="#FFFFFF", labelLimit=400,
            labelOffset=40, columnPadding=66, rowPadding=1, padding=0,
            title=None,
        ),
    ),
    order=alt.Order("rank:Q", sort="ascending"),
)

xlabels = alt.Chart(xlab_df).mark_text(
    font=FONT, fontSize=64, color="#FFFFFF", align="center", baseline="alphabetic"
).encode(
    x=alt.X("date:T", scale=x_scale, axis=None),
    y=alt.value(PLOT_H + 70),
    text="label:N",
)

main = alt.layer(areas, xlabels)

chart = alt.layer(deco, grid, main).resolve_scale(
    x="independent", y="independent"
).properties(
    width=PLOT_W,
    height=PLOT_H,
    autosize=alt.AutoSizeParams(type="none"),
    padding={"left": 227, "top": 165, "right": 151, "bottom": 76},
    background=BG,
).configure_view(strokeWidth=0)

chart.save("out.html", embed_options={"renderer": "svg", "actions": False})
